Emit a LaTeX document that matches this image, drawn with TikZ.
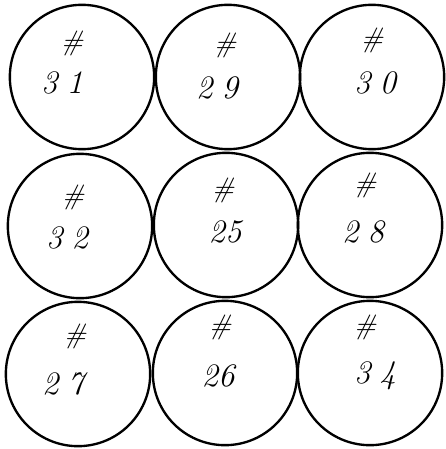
\documentclass[tikz,border=0pt]{standalone}
\usepackage{tikz}
\usetikzlibrary{positioning}

\begin{document}
\begin{tikzpicture}[x=0.03cm, y=-0.03cm,
  disc/.style={draw=black, circle, line width=2pt, minimum size=4.33cm, inner sep=0pt},
  hash/.style={font=\fontsize{24}{26}\selectfont\itshape, inner sep=0pt},
  num/.style={font=\fontsize{28}{30}\selectfont\itshape, inner sep=0pt}]
\useasboundingbox (0,0) rectangle (445,449);
% top row
\node[disc] (c31) at (82,77) {};
\node[disc] (c29) at (228,77) {};
\node[disc] (c30) at (372,77) {};
% middle row
\node[disc] (c32) at (80,226) {};
\node[disc] (c25) at (226,225) {};
\node[disc] (c28) at (370,225) {};
% bottom row
\node[disc] (c27) at (78,374) {};
\node[disc] (c26) at (225,373) {};
\node[disc] (c34) at (370,373) {};
% labels
\node[hash] (h31) at (72,43) {\#};
\node[num] (v31) at (62,83) {3\;1};
\node[hash] (h29) at (225,45) {\#};
\node[num] (v29) at (217,88) {2\;9};
\node[hash] (h30) at (372,40) {\#};
\node[num] (v30) at (375,83) {3\;0};
\node[hash] (h32) at (73,197) {\#};
\node[num] (v32) at (67,238) {3\;2};
\node[hash] (h25) at (223,190) {\#};
\node[num] (v25) at (225,232) {25};
\node[hash] (h28) at (365,185) {\#};
\node[num] (v28) at (363,232) {2\;8};
\node[hash] (h27) at (75,336) {\#};
\node[num] (v27) at (63,384) {2\;7};
\node[hash] (h26) at (220,327) {\#};
\node[num] (v26) at (218,376) {26};
\node[hash] (h34) at (365,327) {\#};
\node[num] (v34) at (375,376) {3\;4};
\end{tikzpicture}
\end{document}
